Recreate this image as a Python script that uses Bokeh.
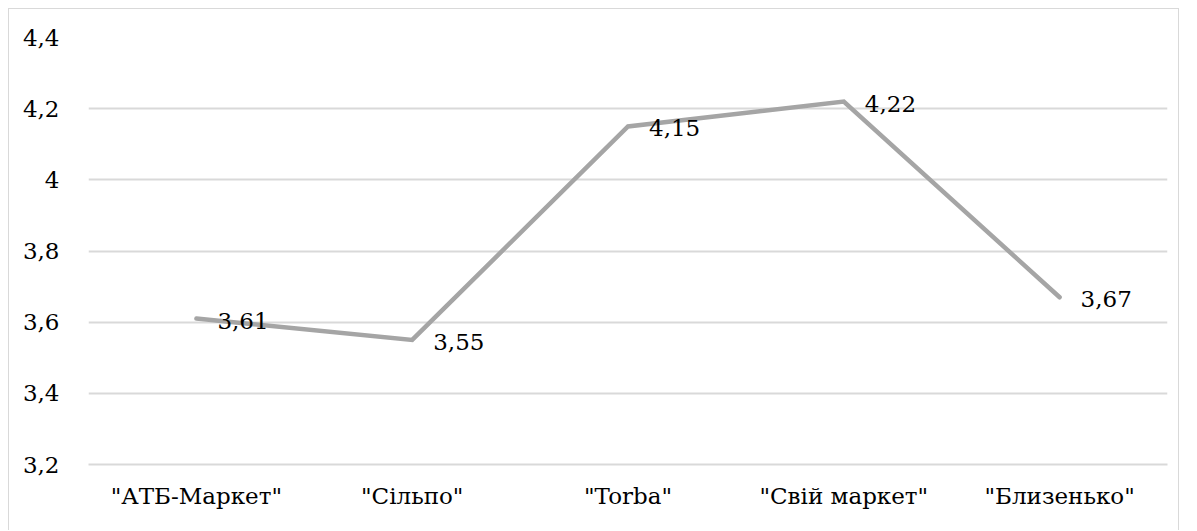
from bokeh.plotting import figure
from bokeh.models import ColumnDataSource, FixedTicker, CustomJSTickFormatter
from bokeh.core.properties import value
from bokeh.embed import file_html
from bokeh.resources import INLINE

# Average rating per retail chain
stores = ['"АТБ-Маркет"', '"Сільпо"', '"Torba"', '"Свій маркет"', '"Близенько"']
scores = [3.61, 3.55, 4.15, 4.22, 3.67]
score_labels = [f"{v:.2f}".replace(".", ",") for v in scores]
y_ticks = [3.2, 3.4, 3.6, 3.8, 4.0, 4.2, 4.4]

FONT = "DejaVu Serif"
SIZE = "23px"

src = ColumnDataSource(dict(store=stores, score=scores, label=score_labels))

p = figure(
    width=1171, height=522,
    x_range=stores, y_range=(3.2, 4.4),
    output_backend="svg", toolbar_location=None,
    min_border_left=79, min_border_right=13,
    min_border_top=28, min_border_bottom=67,
)
# thin frame around the whole chart area
p.styles = {
    "margin-left": "8px", "margin-top": "8px",
    "border-left": "1px solid #d9d9d9",
    "border-top": "1px solid #d9d9d9",
    "border-right": "1px solid #d9d9d9",
}
p.outline_line_color = None
p.background_fill_color = "white"
p.border_fill_color = "white"

p.line("store", "score", source=src, line_color="#a5a5a5", line_width=4.5,
       line_cap="round", line_join="miter")
p.text("store", "score", text="label", source=src, x_offset=21, y_offset=2,
       text_baseline="middle", text_align="left",
       text_font=value(FONT), text_font_size=SIZE, text_color="#000000")

# axes
p.yaxis.ticker = FixedTicker(ticks=y_ticks)
p.yaxis.formatter = CustomJSTickFormatter(
    code="return (Math.round(tick*10)/10).toString().replace('.', ',');")
p.yaxis.axis_line_color = None
p.yaxis.major_tick_line_color = None
p.yaxis.minor_tick_line_color = None
p.yaxis.major_label_text_font = FONT
p.yaxis.major_label_text_font_size = SIZE
p.yaxis.major_label_text_color = "#000000"
p.yaxis.major_label_standoff = 23

p.xaxis.axis_line_color = "#d9d9d9"
p.xaxis.axis_line_width = 2
p.xaxis.major_tick_line_color = None
p.xaxis.minor_tick_line_color = None
p.xaxis.major_label_text_font = FONT
p.xaxis.major_label_text_font_size = SIZE
p.xaxis.major_label_text_color = "#000000"
p.xaxis.major_label_standoff = 12

p.xgrid.grid_line_color = None
p.ygrid.grid_line_color = "#d9d9d9"
p.ygrid.grid_line_width = 2

open("out.html", "w").write(file_html(p, INLINE))
